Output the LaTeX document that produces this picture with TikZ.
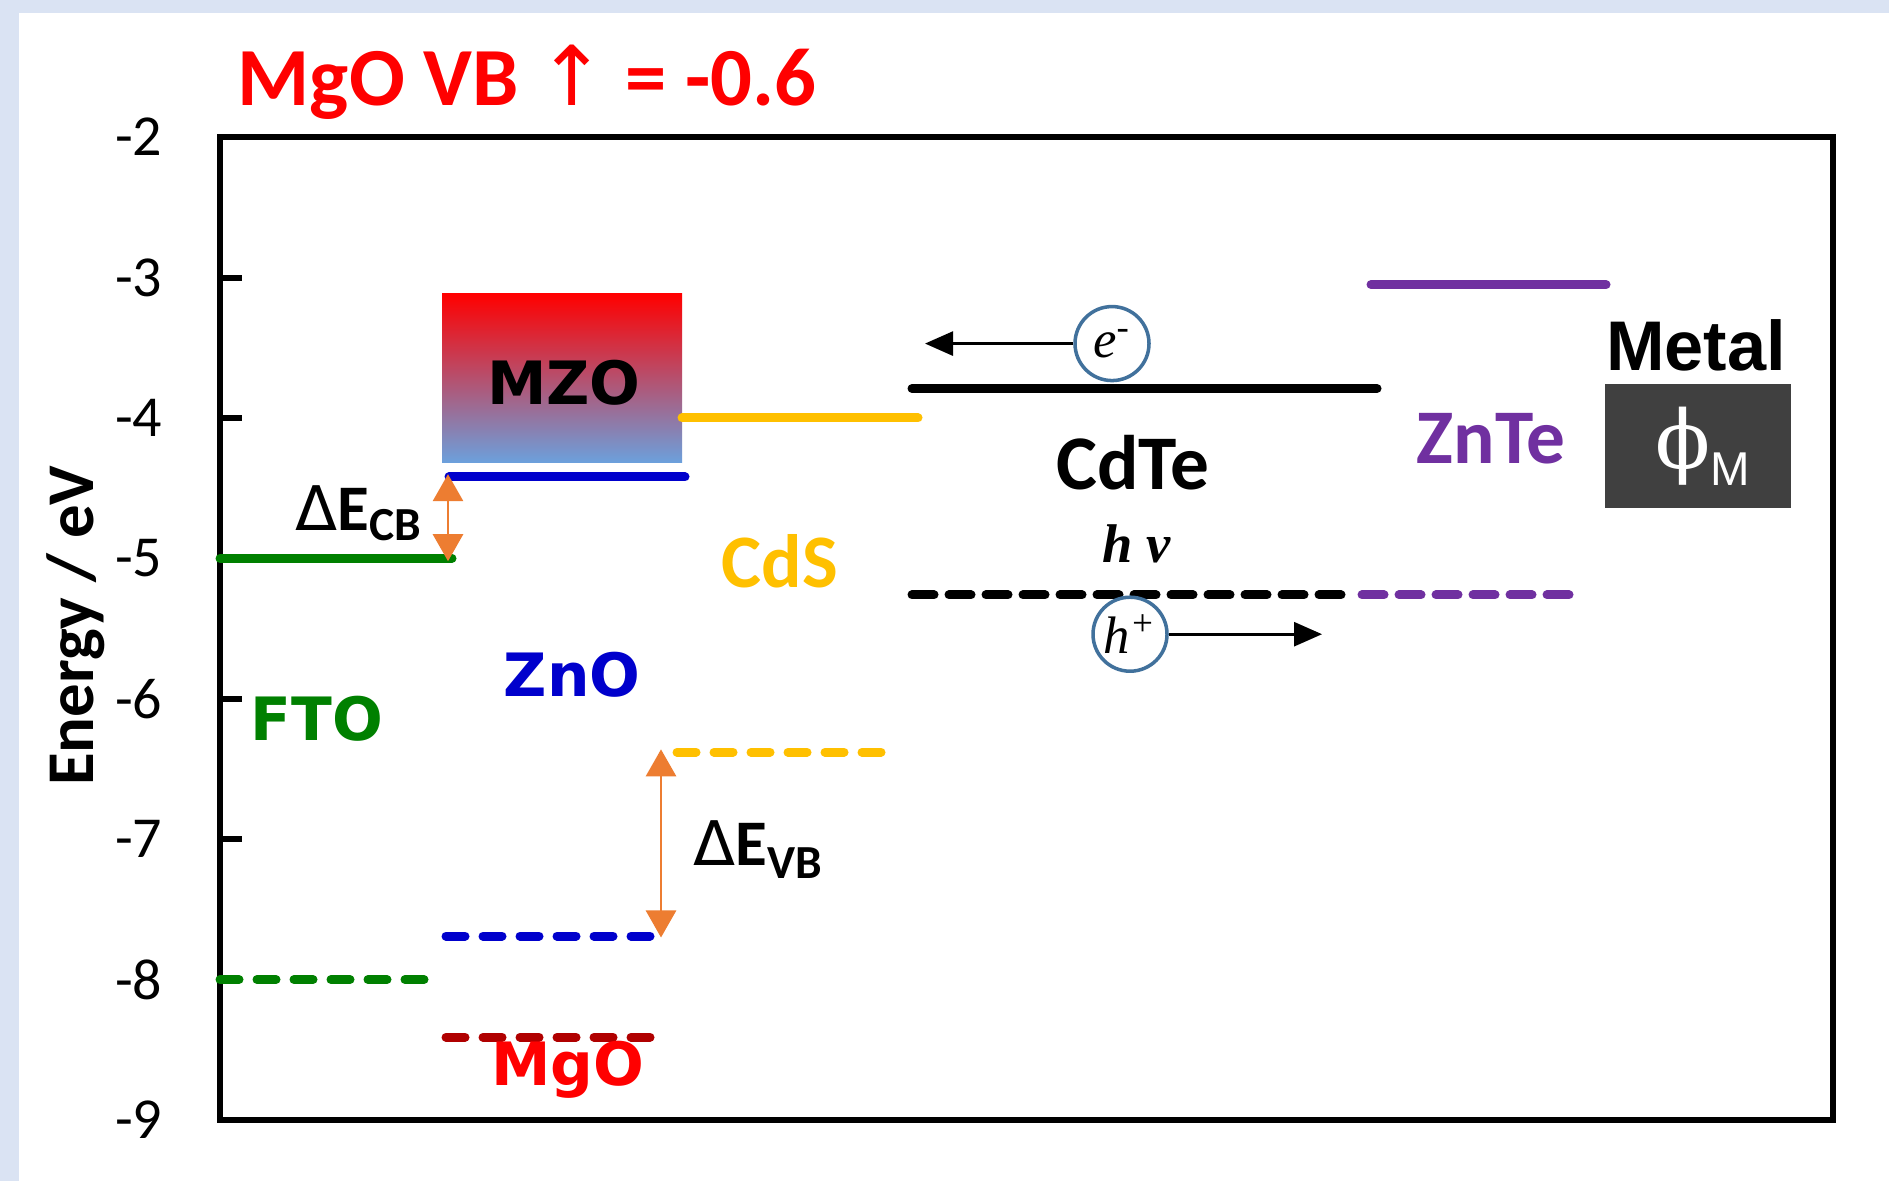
\documentclass[tikz,border=0pt]{standalone}
\usepackage{fontspec}
\setmainfont{Carlito}
\newfontfamily\verdfont{DejaVu Sans}
\newfontfamily\arialfont{Liberation Sans}
\newfontfamily\timesfont{Liberation Serif}
\newfontfamily\phifont{DejaVu Serif}
\usetikzlibrary{arrows.meta}

\definecolor{bgblue}{RGB}{218,227,243}
\definecolor{ftogreen}{RGB}{0,128,0}
\definecolor{znoblue}{RGB}{0,0,204}
\definecolor{mgodark}{RGB}{176,0,0}
\definecolor{cdsamber}{RGB}{255,192,0}
\definecolor{zntepurple}{RGB}{112,48,160}
\definecolor{offorange}{RGB}{237,125,49}
\definecolor{carrierblue}{RGB}{65,113,156}
\definecolor{metalgrey}{RGB}{64,64,64}
\definecolor{mzoblue}{RGB}{108,160,220}

\newcommand{\bandoffset}[2]{{\verdfont\fontsize{17.5}{17.5}\selectfont Δ}{\bfseries\fontsize{18.5}{18.5}\selectfont E}\raisebox{-#2}{\bfseries\fontsize{13.5}{13.5}\selectfont #1}}

\begin{document}
\begin{tikzpicture}[
    frame/.style={line width=0.06cm},
    cbline/.style={line width=0.09cm, line cap=round},
    vbline/.style={cbline, dash pattern=on 0.19cm off 0.18cm},
    cdtevb/.style={cbline, dash pattern=on 0.22cm off 0.15cm},
    offsetarrow/.style={draw=offorange, line width=0.8pt,
        {Triangle[length=0.27cm,width=0.3cm]}-{Triangle[length=0.27cm,width=0.3cm]}},
    carrier/.style={draw=carrierblue, line width=1pt, circle, minimum size=0.74cm,
        inner sep=0pt, font=\timesfont\itshape\fontsize{15}{15}\selectfont},
    matlabel/.style={font=\verdfont\bfseries\fontsize{17}{17}\selectfont},
    calilabel/.style={font=\bfseries\fontsize{22}{22}\selectfont},
    ticklab/.style={anchor=east, inner sep=0pt, font=\fontsize{16.5}{16.5}\selectfont}
]

% Page
\fill[bgblue] (0,0) rectangle (18.89,11.81);
\fill[white] (0.19,0) rectangle (18.89,11.68);
\useasboundingbox (0,0) rectangle (18.89,11.81);

\begin{scope}[yshift=13.246cm, y=1.404cm]

% Axes
\draw[frame] (2.20,-2) rectangle (18.33,-9);
\foreach \e in {-3,-4,...,-8}
    \draw[frame] (2.20,\e) -- (2.42,\e);
\foreach \e in {-2,-3,...,-9}
    \node[ticklab] (tick\e) at (1.63,\e) {\e};
\node[rotate=90, font=\bfseries\fontsize{19}{19}\selectfont] (ylabel) at (0.76,-5.48) {Energy / eV};

% Title
\node[text=red, font=\bfseries\fontsize{23.5}{23.5}\selectfont] (title) at (5.27,-1.61)
    {MgO VB {\verdfont\mdseries ↑} = -0.6};

% FTO
\draw[cbline, ftogreen] (2.20,-5) -- (4.52,-5);
\draw[vbline, ftogreen] (2.20,-8) -- (4.34,-8);
\node[matlabel, text=ftogreen] (fto) at (3.17,-6.14) {FTO};

% MZO / ZnO / MgO
\shade[top color=red, bottom color=mzoblue] (4.42,-3.115) rectangle (6.82,-4.316);
\node[matlabel] (mzo) at (5.64,-3.75) {MZO};
\draw[cbline, znoblue] (4.49,-4.42) -- (6.85,-4.42);
\draw[vbline, znoblue] (4.46,-7.69) -- (6.63,-7.69);
\node[matlabel, text=znoblue] (zno) at (5.72,-5.83) {ZnO};
\draw[vbline, mgodark] (4.46,-8.41) -- (6.63,-8.41);
\node[matlabel, text=red] (mgo) at (5.68,-8.64) {MgO};

% CdS
\draw[cbline, cdsamber] (6.82,-4.0) -- (9.18,-4.0);
\draw[vbline, cdsamber] (6.77,-6.38) -- (8.97,-6.38);
\node[text=cdsamber, font=\bfseries\fontsize{21.5}{21.5}\selectfont] (cds) at (7.80,-5.02) {CdS};

% Band offsets
\coordinate (cbtop) at (4.48,-4.40);
\coordinate (cbbot) at (4.48,-5.02);
\draw[offsetarrow] (cbtop) -- (cbbot);
\node[anchor=base west, inner sep=0pt] (dcb) at (2.95,-4.80) {\bandoffset{CB}{0.1cm}};
\coordinate (vbtop) at (6.61,-6.36);
\coordinate (vbbot) at (6.61,-7.70);
\draw[offsetarrow] (vbtop) -- (vbbot);
\node[anchor=base west, inner sep=0pt] (dvb) at (6.93,-7.19) {\bandoffset{VB}{0.13cm}};

% CdTe
\draw[cbline] (9.12,-3.79) -- (13.77,-3.79);
\draw[cdtevb] (9.12,-5.26) -- (13.45,-5.26);
\node[calilabel] (cdte) at (11.33,-4.32) {CdTe};
\node[font=\timesfont\bfseries\itshape\fontsize{15.5}{15.5}\selectfont] (hnu) at (11.37,-4.90) {h ν};

% Carriers
\node[carrier] (elec) at (11.12,-3.47) {e\textsuperscript{-}};
\coordinate (etip) at (9.25,-3.47);
\draw[line width=0.8pt, -{Triangle[length=0.28cm,width=0.24cm]}] (elec) -- (etip);
\node[carrier] (hole) at (11.30,-5.54) {h\textsuperscript{+}};
\coordinate (htip) at (13.22,-5.54);
\draw[line width=0.8pt, -{Triangle[length=0.28cm,width=0.24cm]}] (hole) -- (htip);

% ZnTe
\draw[cbline, zntepurple] (13.71,-3.05) -- (16.06,-3.05);
\draw[cdtevb, zntepurple] (13.62,-5.26) -- (15.80,-5.26);
\node[calilabel, text=zntepurple] (znte) at (14.91,-4.15) {ZnTe};

% Metal
\node[font=\arialfont\bfseries\fontsize{20}{20}\selectfont] (metal) at (16.96,-3.48) {Metal};
\fill[metalgrey] (16.05,-3.76) rectangle (17.91,-4.64);
\node[anchor=base west, inner sep=0pt, text=white] (phim) at (16.55,-4.357)
    {{\phifont\fontsize{23}{23}\selectfont ϕ}\raisebox{-0.17cm}{\arialfont\fontsize{13.5}{13.5}\selectfont M}};

\end{scope}
\end{tikzpicture}
\end{document}
